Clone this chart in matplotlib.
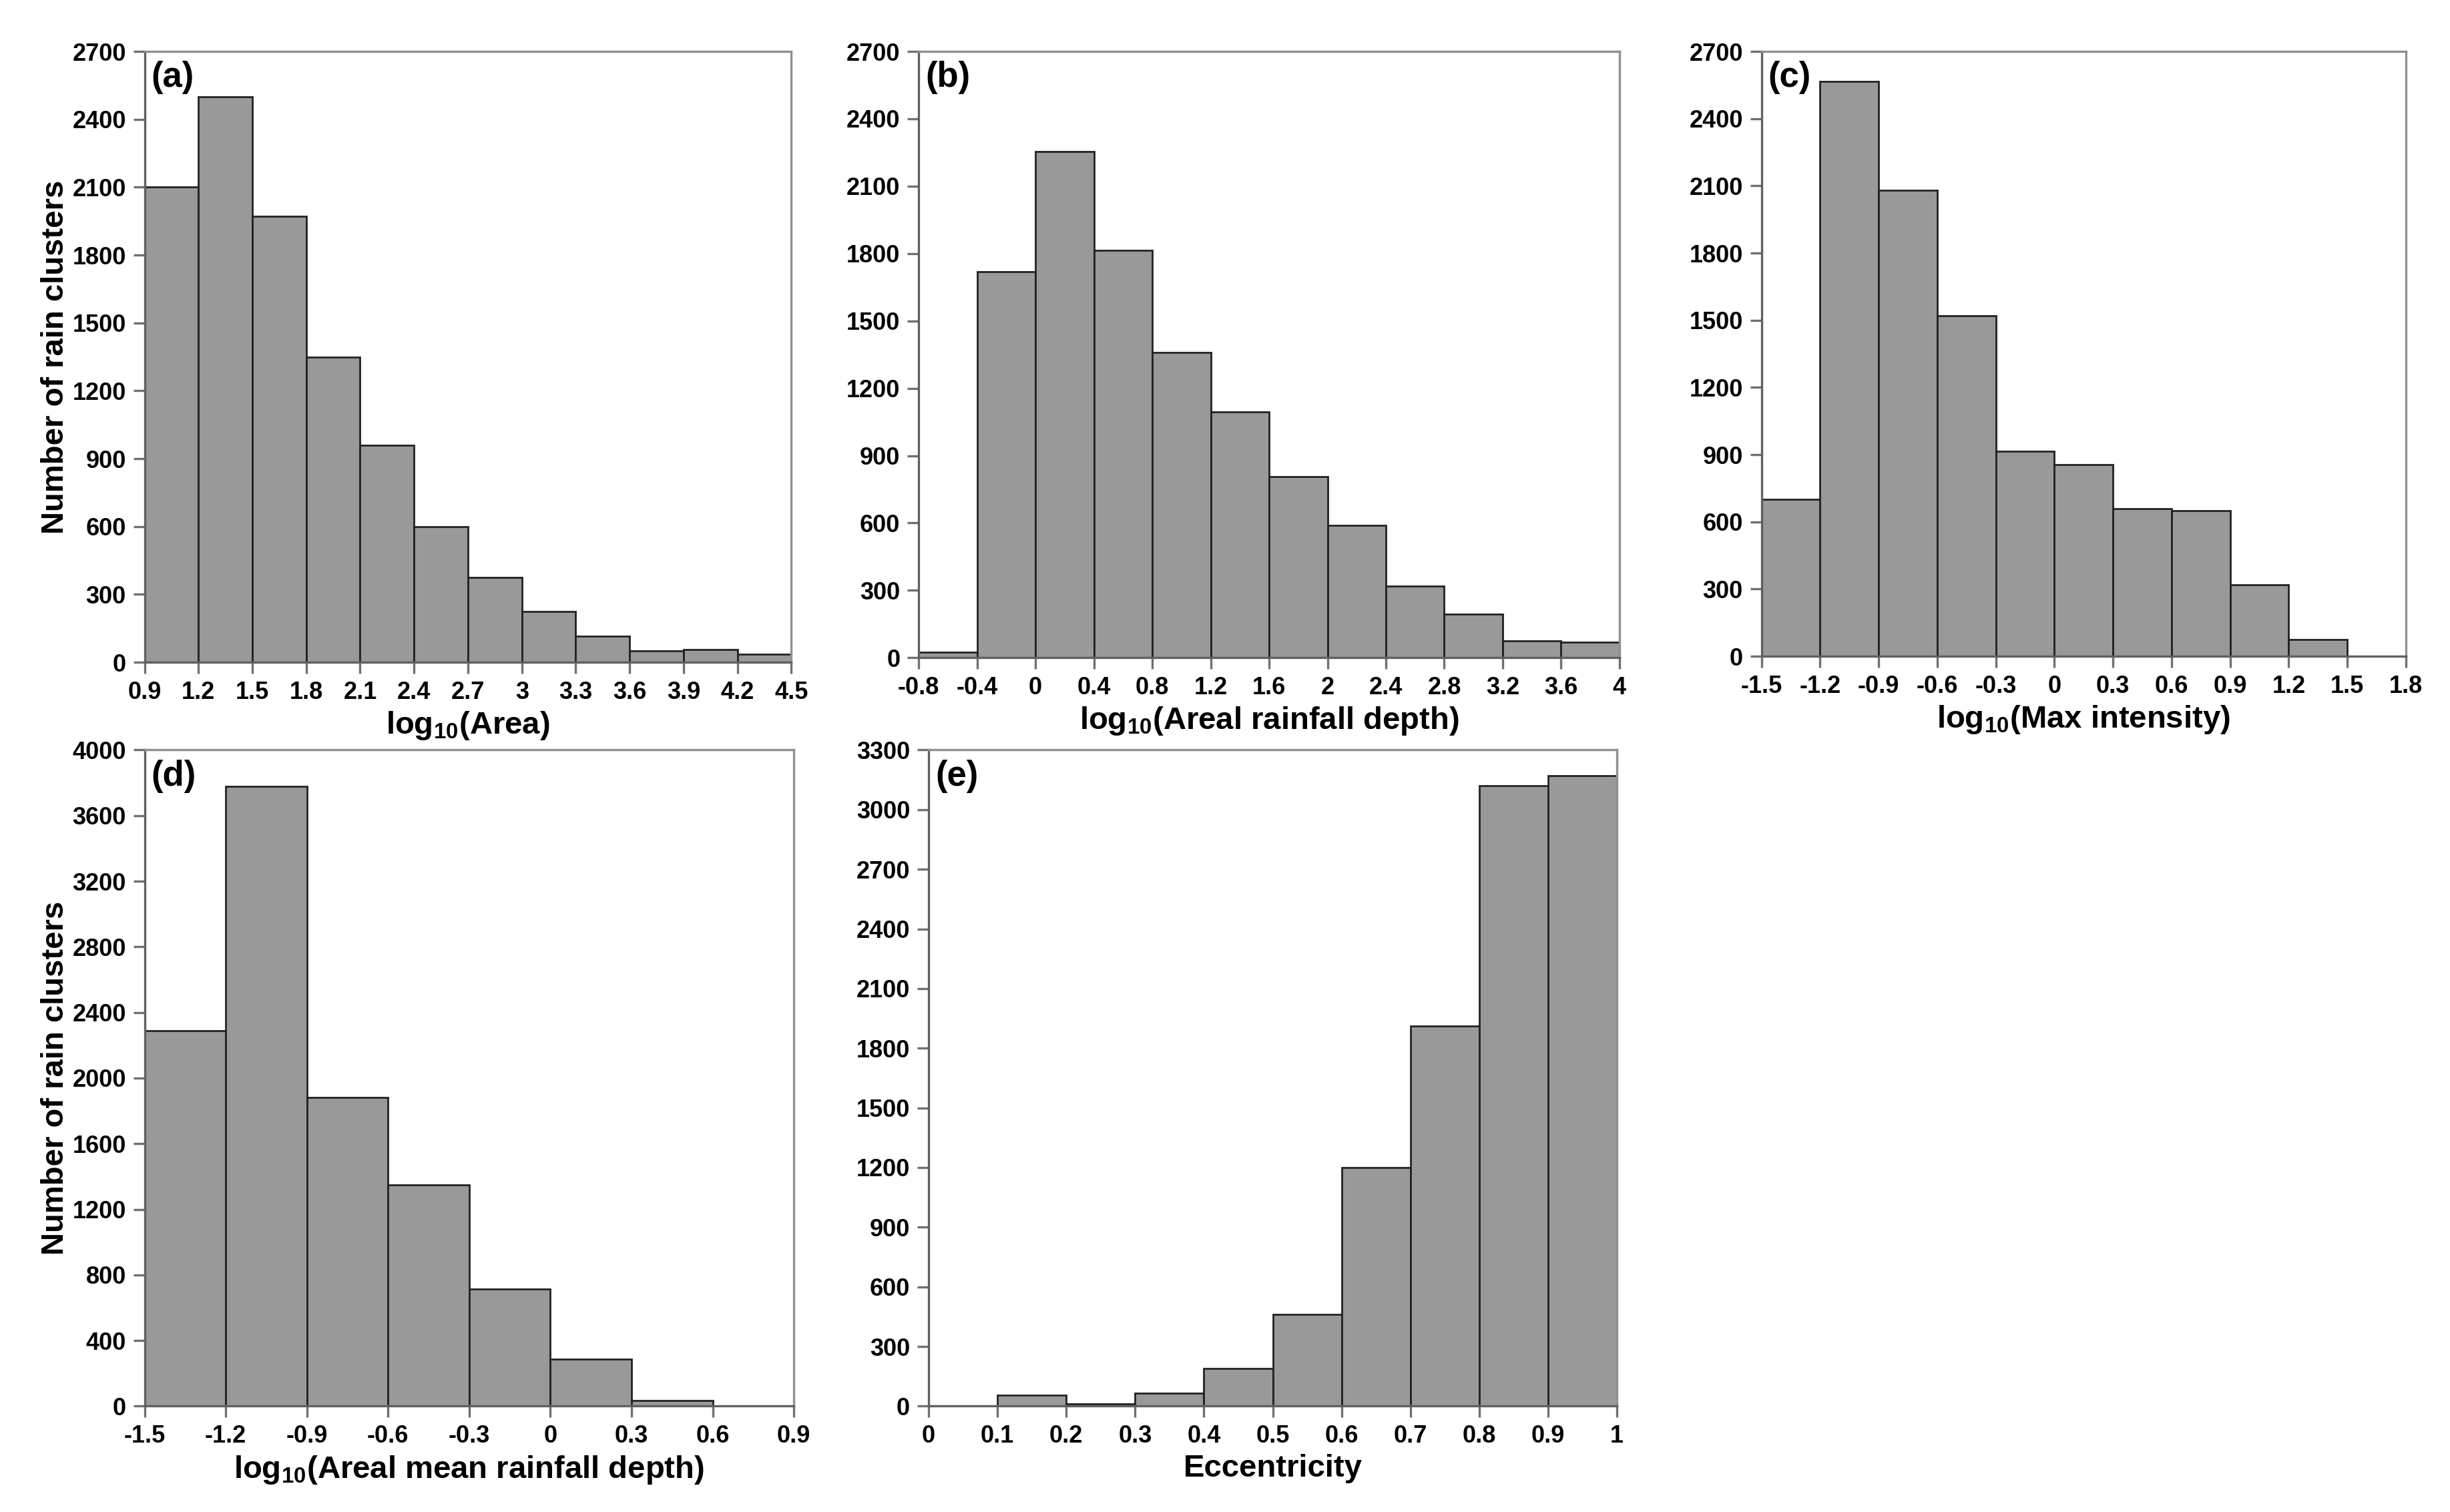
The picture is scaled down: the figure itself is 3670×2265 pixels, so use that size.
import numpy as np
import matplotlib
matplotlib.use("Agg")
import matplotlib.pyplot as plt

plt.rcParams['font.family'] = ['Liberation Sans', 'DejaVu Sans']
plt.rcParams['font.weight'] = 'bold'
plt.rcParams['mathtext.fontset'] = 'custom'
plt.rcParams['mathtext.bf'] = 'Liberation Sans:bold'
plt.rcParams['mathtext.rm'] = 'Liberation Sans:bold'

# bin edges and counts
area_edges = [0.9, 1.2, 1.5, 1.8, 2.1, 2.4, 2.7, 3.0, 3.3, 3.6, 3.9, 4.2, 4.5]
area_counts = [2100, 2500, 1970, 1350, 960, 600, 375, 225, 115, 50, 55, 35]

depth_edges = [-0.8, -0.4, 0.0, 0.4, 0.8, 1.2, 1.6, 2.0, 2.4, 2.8, 3.2, 3.6, 4.0]
depth_counts = [25, 1720, 2255, 1815, 1360, 1095, 805, 590, 320, 195, 75, 70]

imax_edges = [-1.5, -1.2, -0.9, -0.6, -0.3, 0.0, 0.3, 0.6, 0.9, 1.2, 1.5, 1.8]
imax_counts = [700, 2565, 2080, 1520, 915, 855, 660, 650, 320, 75, 0]

mean_edges = [-1.5, -1.2, -0.9, -0.6, -0.3, 0.0, 0.3, 0.6, 0.9]
mean_counts = [2290, 3780, 1880, 1350, 715, 285, 35, 0]

ecc_edges = [0.0, 0.1, 0.2, 0.3, 0.4, 0.5, 0.6, 0.7, 0.8, 0.9, 1.0]
ecc_counts = [0, 55, 10, 65, 190, 460, 1200, 1910, 3120, 3170]

panels = [
    ("(a)", area_edges, area_counts, r"log$_{\mathbf{10}}$(Area)", 2700, 300, True,
     [0.059, 0.562, 0.264, 0.404]),
    ("(b)", depth_edges, depth_counts, r"log$_{\mathbf{10}}$(Areal rainfall depth)", 2700, 300, False,
     [0.375, 0.565, 0.286, 0.401]),
    ("(c)", imax_edges, imax_counts, r"log$_{\mathbf{10}}$(Max intensity)", 2700, 300, False,
     [0.719, 0.566, 0.263, 0.400]),
    ("(d)", mean_edges, mean_counts, r"log$_{\mathbf{10}}$(Areal mean rainfall depth)", 4000, 400, True,
     [0.059, 0.070, 0.265, 0.434]),
    ("(e)", ecc_edges, ecc_counts, "Eccentricity", 3300, 300, False,
     [0.379, 0.070, 0.281, 0.434]),
]

fig = plt.figure(figsize=(18.35, 11.325), dpi=200)

for tag, edges, counts, xlabel, ymax, ystep, ylab, pos in panels:
    ax = fig.add_axes(pos)
    edges = np.array(edges)
    ax.bar(edges[:-1], counts, width=np.diff(edges), align='edge',
           color='#999999', edgecolor='#222222', linewidth=1.0)
    ax.set_xlim(edges[0], edges[-1])
    ax.set_ylim(0, ymax)
    ax.set_xticks(edges)
    ax.set_xticklabels(['%g' % round(e, 2) for e in edges])
    ax.set_yticks(np.arange(0, ymax + 1, ystep))
    ax.tick_params(direction='out', length=6, width=1.2, color='#707070',
                   labelsize=13, pad=4)
    for s in ax.spines.values():
        s.set_color('#909090')
        s.set_linewidth(1.2)
    ax.spines['left'].set_color('#606060')
    ax.spines['bottom'].set_color('#606060')
    ax.set_xlabel(xlabel, fontsize=17, fontweight='bold', labelpad=3)
    if ylab:
        ax.set_ylabel("Number of rain clusters", fontsize=17, fontweight='bold',
                      labelpad=1)
    ax.text(0.01, 0.985, tag, transform=ax.transAxes, fontsize=19,
            fontweight='bold', va='top', ha='left')

fig.savefig("out.png", dpi=200)
